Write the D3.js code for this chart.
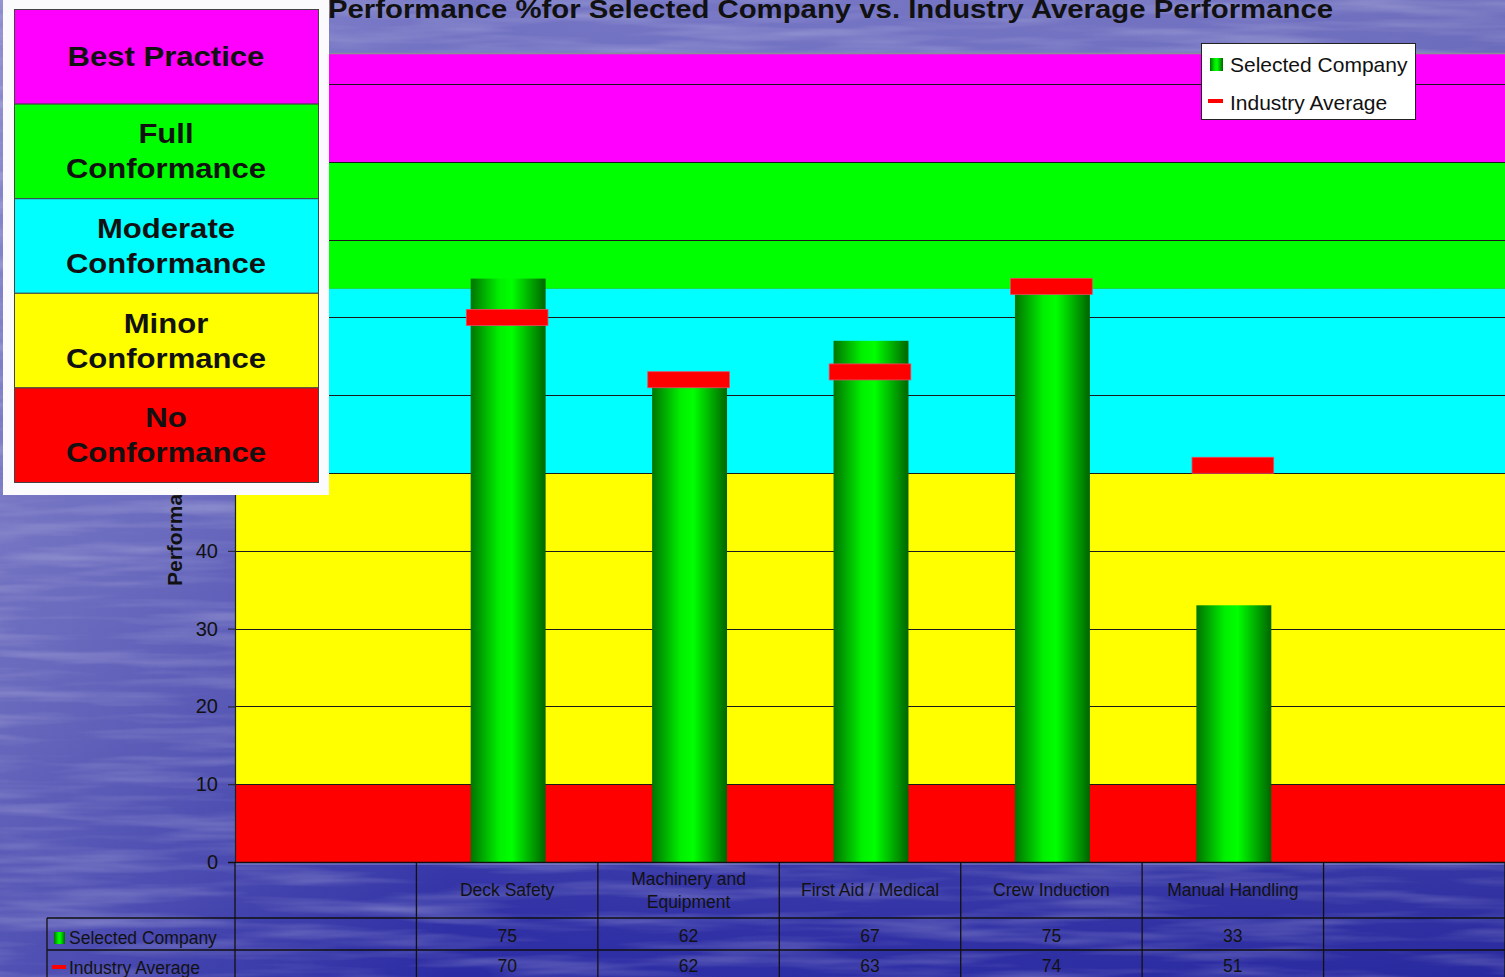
<!DOCTYPE html>
<html>
<head>
<meta charset="utf-8">
<script src="https://cdn.jsdelivr.net/npm/d3@7"></script>
<style>
  html, body { margin: 0; padding: 0; background: #4a4ab0; overflow: hidden; }
  svg { display: block; font-family: "Liberation Sans", Arial, sans-serif; }
</style>
</head>
<body>
<svg id="chart" width="1505" height="977"></svg>
<script>
// ---- data ----
const categories = ["", "Deck Safety", "Machinery and Equipment", "First Aid / Medical", "Crew Induction", "Manual Handling", ""];
const selectedCompany = [null, 75, 62, 67, 75, 33, null];
const industryAverage = [null, 70, 62, 63, 74, 51, null];
const seriesNames = ["Selected Company", "Industry Average"];
const yTicks = [0, 10, 20, 30, 40, 50, 60, 70, 80, 90, 100];
const bandLimits = [0, 10, 50, 73.7, 90, 104];
const bandColors = ["#ff0000", "#ffff00", "#00ffff", "#00ff00", "#ff00ff"];
const ratingNames = [["Best Practice"], ["Full", "Conformance"], ["Moderate", "Conformance"], ["Minor", "Conformance"], ["No", "Conformance"]];
const ratingColors = ["#ff00ff", "#00ff00", "#00ffff", "#ffff00", "#ff0000"];
const titleText = "Performance %for Selected Company vs. Industry Average Performance";
const yTitle = "Performance %";

const svg = d3.select("#chart");
const W = 1505, H = 977;
const plot = { left: 235, right: 1505, top: 53, bottom: 862 };

const defs = svg.append("defs");
// background gradient
const bg = defs.append("linearGradient").attr("id", "bgGrad").attr("x1", 0).attr("y1", 0).attr("x2", 0).attr("y2", 1);
bg.append("stop").attr("offset", "0%").attr("stop-color", "#7474c4");
bg.append("stop").attr("offset", "45%").attr("stop-color", "#5e5eba");
bg.append("stop").attr("offset", "75%").attr("stop-color", "#4646ae");
bg.append("stop").attr("offset", "100%").attr("stop-color", "#2b2ba4");
const bgSide = defs.append("linearGradient").attr("id", "bgSide").attr("x1", 0).attr("y1", 0).attr("x2", 1).attr("y2", 0);
bgSide.append("stop").attr("offset", "0%").attr("stop-color", "#ffffff").attr("stop-opacity", 0.18);
bgSide.append("stop").attr("offset", "30%").attr("stop-color", "#ffffff").attr("stop-opacity", 0.0);
bgSide.append("stop").attr("offset", "100%").attr("stop-color", "#000040").attr("stop-opacity", 0.05);
// water streaks
const f = defs.append("filter").attr("id", "water").attr("x", 0).attr("y", 0).attr("width", 1).attr("height", 1);
f.append("feTurbulence").attr("type", "fractalNoise").attr("baseFrequency", "0.006 0.07").attr("numOctaves", 3).attr("seed", 7);
f.append("feColorMatrix").attr("type", "matrix")
  .attr("values", "0 0 0 0 1  0 0 0 0 1  0 0 0 0 1  0.9 0 0 0 -0.38");
// bar gradient
const barGrad = defs.append("linearGradient").attr("id", "barGrad").attr("x1", 0).attr("y1", 0).attr("x2", 1).attr("y2", 0);
barGrad.append("stop").attr("offset", "0%").attr("stop-color", "#007400");
barGrad.append("stop").attr("offset", "38%").attr("stop-color", "#00f000");
barGrad.append("stop").attr("offset", "55%").attr("stop-color", "#00ff00");
barGrad.append("stop").attr("offset", "100%").attr("stop-color", "#006400");

svg.append("rect").attr("width", W).attr("height", H).attr("fill", "url(#bgGrad)");
svg.append("rect").attr("width", W).attr("height", H).attr("fill", "url(#bgSide)");
svg.append("rect").attr("width", W).attr("height", H).attr("filter", "url(#water)").attr("opacity", 0.55);

// ---- scales ----
const x = d3.scaleBand().domain(d3.range(categories.length)).range([plot.left, plot.right]).padding(0);
const y = d3.scaleLinear().domain([0, bandLimits[bandLimits.length - 1]]).range([plot.bottom, plot.top]);
const barW = x.bandwidth() * 0.413;
const markW = x.bandwidth() * 0.45;
const markH = 16;

// ---- rating bands ----
const bands = bandColors.map((c, i) => ({ from: bandLimits[i], to: bandLimits[i + 1], color: c }));
svg.append("g").selectAll("rect").data(bands).join("rect")
  .attr("x", plot.left).attr("width", plot.right - plot.left)
  .attr("y", d => y(d.to)).attr("height", d => y(d.from) - y(d.to))
  .attr("fill", d => d.color);
svg.append("line").attr("x1", plot.left).attr("x2", plot.right)
  .attr("y1", plot.top + 0.5).attr("y2", plot.top + 0.5).attr("stroke", "#8a8a9a").attr("stroke-width", 1.5);

// gridlines
svg.append("g").selectAll("line").data(yTicks.filter(t => t > 0)).join("line")
  .attr("x1", plot.left).attr("x2", plot.right)
  .attr("y1", d => Math.round(y(d)) + 0.5).attr("y2", d => Math.round(y(d)) + 0.5)
  .attr("stroke", "#1a1a1a").attr("stroke-width", 1);

// y axis
const yAxis = svg.append("g").attr("transform", `translate(${plot.left},0)`)
  .call(d3.axisLeft(y).tickValues(yTicks).tickSize(7).tickPadding(10).tickFormat(d3.format("d")));
yAxis.select(".domain").attr("stroke", "#222").attr("stroke-width", 1.2);
yAxis.selectAll(".tick line").attr("stroke", "#222");
yAxis.selectAll(".tick text").attr("fill", "#111").attr("font-size", 20).attr("font-family", "Liberation Sans, Arial, sans-serif");

svg.append("text").attr("transform", "translate(182,586) rotate(-90)")
  .attr("font-size", 21).attr("font-weight", "bold").attr("fill", "#111").text(yTitle);

// ---- bars ----
const idx = d3.range(categories.length);
svg.append("g").selectAll("rect").data(idx.filter(i => selectedCompany[i] != null)).join("rect")
  .attr("x", i => x(i) + x.bandwidth() / 2 - barW / 2 + 1)
  .attr("width", barW)
  .attr("y", i => y(selectedCompany[i]))
  .attr("height", i => y(0) - y(selectedCompany[i]))
  .attr("fill", "url(#barGrad)");

// industry average markers
svg.append("g").selectAll("rect").data(idx.filter(i => industryAverage[i] != null)).join("rect")
  .attr("x", i => x(i) + x.bandwidth() / 2 - markW / 2)
  .attr("width", markW)
  .attr("y", i => y(industryAverage[i]) - markH / 2)
  .attr("height", markH)
  .attr("fill", "#ff0000").attr("stroke", "#e84a60").attr("stroke-width", 0.8);

// axis baseline
svg.append("line").attr("x1", plot.left - 7).attr("x2", plot.right).attr("y1", plot.bottom + 0.5).attr("y2", plot.bottom + 0.5)
  .attr("stroke", "#111").attr("stroke-width", 1.3);
svg.append("line").attr("x1", plot.left).attr("x2", plot.right).attr("y1", plot.bottom + 2).attr("y2", plot.bottom + 2)
  .attr("stroke", "#c8c8e8").attr("stroke-width", 0.8).attr("opacity", 0.7);

// ---- data table ----
const rowTop = plot.bottom, row1 = 918, row2 = 950, tableLeft = 47;
const tbl = svg.append("g").attr("stroke", "#111").attr("stroke-width", 1.3);
idx.forEach(i => {
  tbl.append("line").attr("x1", x(i)).attr("x2", x(i)).attr("y1", rowTop).attr("y2", H);
});
tbl.append("line").attr("x1", x(categories.length - 1) + x.bandwidth()).attr("x2", x(categories.length - 1) + x.bandwidth()).attr("y1", rowTop).attr("y2", H);
tbl.append("line").attr("x1", tableLeft).attr("x2", plot.right).attr("y1", row1).attr("y2", row1);
tbl.append("line").attr("x1", tableLeft).attr("x2", plot.right).attr("y1", row2).attr("y2", row2);
tbl.append("line").attr("x1", tableLeft).attr("x2", tableLeft).attr("y1", row1).attr("y2", H);

const tfont = 17.5;
const catG = svg.append("g").attr("font-size", tfont).attr("fill", "#121212").attr("text-anchor", "middle");
idx.forEach(i => {
  const name = categories[i];
  if (!name) return;
  const cx = x(i) + x.bandwidth() / 2;
  // wrap long labels onto two lines
  let lines = [name];
  if (name.length > 20) {
    const cut = name.lastIndexOf(" ", Math.floor(name.length / 2) + 6);
    lines = [name.slice(0, cut), name.slice(cut + 1)];
  }
  lines.forEach((ln, k) => {
    catG.append("text").attr("x", cx)
      .attr("y", 896 + (k - (lines.length - 1) / 2) * 23).text(ln);
  });
  catG.append("text").attr("x", cx).attr("y", 942).text(selectedCompany[i]);
  catG.append("text").attr("x", cx).attr("y", 972).text(industryAverage[i]);
});

// row keys
const keyG = svg.append("g").attr("font-size", tfont).attr("fill", "#121212");
keyG.append("rect").attr("x", 54).attr("y", 932).attr("width", 11).attr("height", 12).attr("fill", "url(#barGrad)");
keyG.append("text").attr("x", 69).attr("y", 944).text(seriesNames[0]);
keyG.append("rect").attr("x", 52).attr("y", 965).attr("width", 14).attr("height", 4).attr("fill", "#ff0000");
keyG.append("text").attr("x", 69).attr("y", 974).text(seriesNames[1]);

// ---- title ----
svg.append("text").attr("x", 328).attr("y", 18)
  .attr("font-size", 26).attr("font-weight", "bold").attr("fill", "#111")
  .attr("textLength", 1005).attr("lengthAdjust", "spacingAndGlyphs")
  .text(titleText);

// ---- series legend ----
const lg = svg.append("g");
lg.append("rect").attr("x", 1201.5).attr("y", 43.5).attr("width", 214).attr("height", 76)
  .attr("fill", "#ffffff").attr("stroke", "#222").attr("stroke-width", 1);
lg.append("rect").attr("x", 1210).attr("y", 58).attr("width", 13).attr("height", 13).attr("fill", "url(#barGrad)");
lg.append("text").attr("x", 1230).attr("y", 72).attr("font-size", 21).attr("fill", "#111").text(seriesNames[0]);
lg.append("rect").attr("x", 1208).attr("y", 99).attr("width", 15).attr("height", 4).attr("fill", "#ff0000");
lg.append("text").attr("x", 1230).attr("y", 110).attr("font-size", 21).attr("fill", "#111").text(seriesNames[1]);

// ---- rating key panel ----
const panel = svg.append("g");
panel.append("rect").attr("x", 3).attr("y", 0).attr("width", 326).attr("height", 495).attr("fill", "#fbfbfd");
const boxTop = 9, boxH = 94.6, boxX = 14, boxW = 304;
ratingNames.forEach((lines, i) => {
  const top = boxTop + i * boxH;
  panel.append("rect").attr("x", boxX + 0.5).attr("y", top + 0.5).attr("width", boxW).attr("height", boxH)
    .attr("fill", ratingColors[i]).attr("stroke", "#444").attr("stroke-width", 1);
  const cy = top + boxH / 2;
  lines.forEach((ln, k) => {
    const base = cy + 10 + (k - (lines.length - 1) / 2) * 35;
    const t = panel.append("text").attr("x", 166).attr("y", base)
      .attr("text-anchor", "middle").attr("font-size", 27).attr("font-weight", "bold").attr("fill", "#111")
      .text(ln);
    const w = t.node().getComputedTextLength();
    t.attr("textLength", w * 1.15).attr("lengthAdjust", "spacingAndGlyphs");
  });
});
</script>
</body>
</html>
